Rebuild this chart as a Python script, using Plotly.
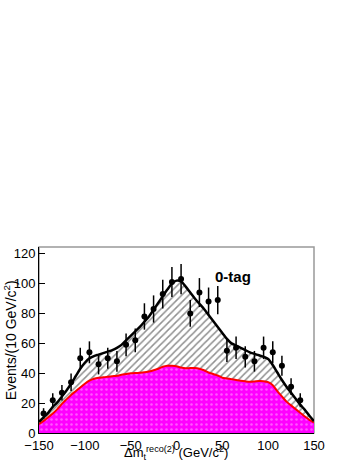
import numpy as np
import plotly.graph_objects as go

# measured data points (bin centres, events per 10 GeV/c^2)
bin_x = list(range(-145, 136, 10))
events = [13, 22, 27, 34, 50, 54, 46, 50, 48, 59, 62, 78, 83, 93, 101,
          103, 80, 94, 88, 89, 55, 57, 51, 48, 57, 54, 45, 31, 22]

# fit curves, every 5 GeV/c^2 from -150 to 150
curve_x = list(range(-150, 151, 5))
total_fit = [7.5, 10.5, 13.5, 17.5, 20.5, 24.5, 28.5, 33, 38, 43,
             47, 50, 51.5, 52.5, 53.5, 54.5, 55.5, 57, 59, 62,
             65, 68, 71, 74.5, 78, 82.5, 87, 91.5, 96, 100,
             102, 101.5, 98, 94, 90, 86.5, 83, 79, 75, 71,
             67, 63, 60, 58.5, 57, 55.5, 54, 53, 52, 51,
             49.5, 45.5, 40.5, 35.5, 31, 27, 23, 19, 15.5, 11.5, 8]
background = [6, 8, 10.5, 13, 16, 19.5, 22.5, 25.5, 28, 30.5,
              33, 35, 36.3, 37, 37.3, 37.6, 38, 38.3, 39, 39.5,
              40, 40.2, 40.3, 40.6, 41.2, 42, 43, 44.3, 45, 45,
              44.7, 43.8, 43.3, 43.5, 43.5, 43, 42, 40.5, 39.5, 38.5,
              37, 36.5, 36, 35.5, 35, 34.6, 34.3, 34.5, 34.8, 34.7,
              34, 32, 28, 24.5, 21, 18.5, 16, 13.5, 11, 8.8, 7]

y_ticks = [0, 20, 40, 60, 80, 100, 120]
x_ticks = [-150, -100, -50, 0, 50, 100, 150]

FONT = "Liberation Sans, Arial, sans-serif"

fig = go.Figure()
fig.add_trace(go.Scatter(
    x=curve_x, y=background, mode="lines",
    line=dict(color="red", width=2, shape="spline", smoothing=0.8),
    fill="tozeroy", fillcolor="#ff00ff",
    fillpattern=dict(shape=".", bgcolor="#ff00ff", fgcolor="#ffb0ff", size=5, solidity=0.2),
    showlegend=False, hoverinfo="skip",
))
fig.add_trace(go.Scatter(
    x=curve_x, y=total_fit, mode="lines",
    line=dict(color="black", width=2.5, shape="spline", smoothing=0.8),
    fill="tonexty", fillcolor="white",
    fillpattern=dict(shape="/", bgcolor="white", fgcolor="#222222", size=5, solidity=0.3),
    showlegend=False, hoverinfo="skip",
))
fig.add_trace(go.Scatter(
    x=bin_x, y=events, mode="markers", marker=dict(color="black", size=6),
    error_y=dict(type="data", array=list(np.sqrt(events)), color="black", thickness=1.5, width=0),
    showlegend=False,
))

fig.add_annotation(x=62, y=104.5, xref="x", yref="y", text="<b>0-tag</b>", showarrow=False,
                   xanchor="center", yanchor="middle",
                   font=dict(family=FONT, size=15, color="black"))
fig.add_annotation(x=0.498, y=-0.108, xref="paper", yref="paper",
                   text="Δm<sub>t</sub><sup>reco(2)</sup> (GeV/c<sup>2</sup>)", showarrow=False,
                   xanchor="center", yanchor="middle",
                   font=dict(family=FONT, size=13, color="black"))
fig.add_annotation(x=-0.105, y=0.5, xref="paper", yref="paper", textangle=-90,
                   text="Events/(10 GeV/c<sup>2</sup>)", showarrow=False,
                   xanchor="center", yanchor="middle",
                   font=dict(family=FONT, size=14, color="black"))

fig.add_shape(type="rect", xref="paper", yref="paper", x0=0, y0=0, x1=1, y1=1,
              line=dict(color="#999999", width=1.5), layer="below")

fig.update_xaxes(range=[-150, 150], tickvals=x_ticks, ticks="", showgrid=False, zeroline=False,
                 showline=True, linecolor="black", linewidth=1, automargin=False,
                 tickfont=dict(family=FONT, size=13, color="black"))
fig.update_yaxes(range=[0, 124.5], tickvals=y_ticks, ticks="inside", ticklen=6, tickcolor="black",
                 showgrid=False, zeroline=False, showline=True, linecolor="black", linewidth=1,
                 automargin=False, tickfont=dict(family=FONT, size=13, color="black"))
fig.update_layout(
    width=357, height=462, margin=dict(l=39, r=43, t=247, b=29),
    paper_bgcolor="white", plot_bgcolor="white",
)
# drop the browser's default 8px body margin so the figure fills the window
fig.write_html("out.html", config={"displayModeBar": False},
               post_script="document.body.style.margin='0';")
